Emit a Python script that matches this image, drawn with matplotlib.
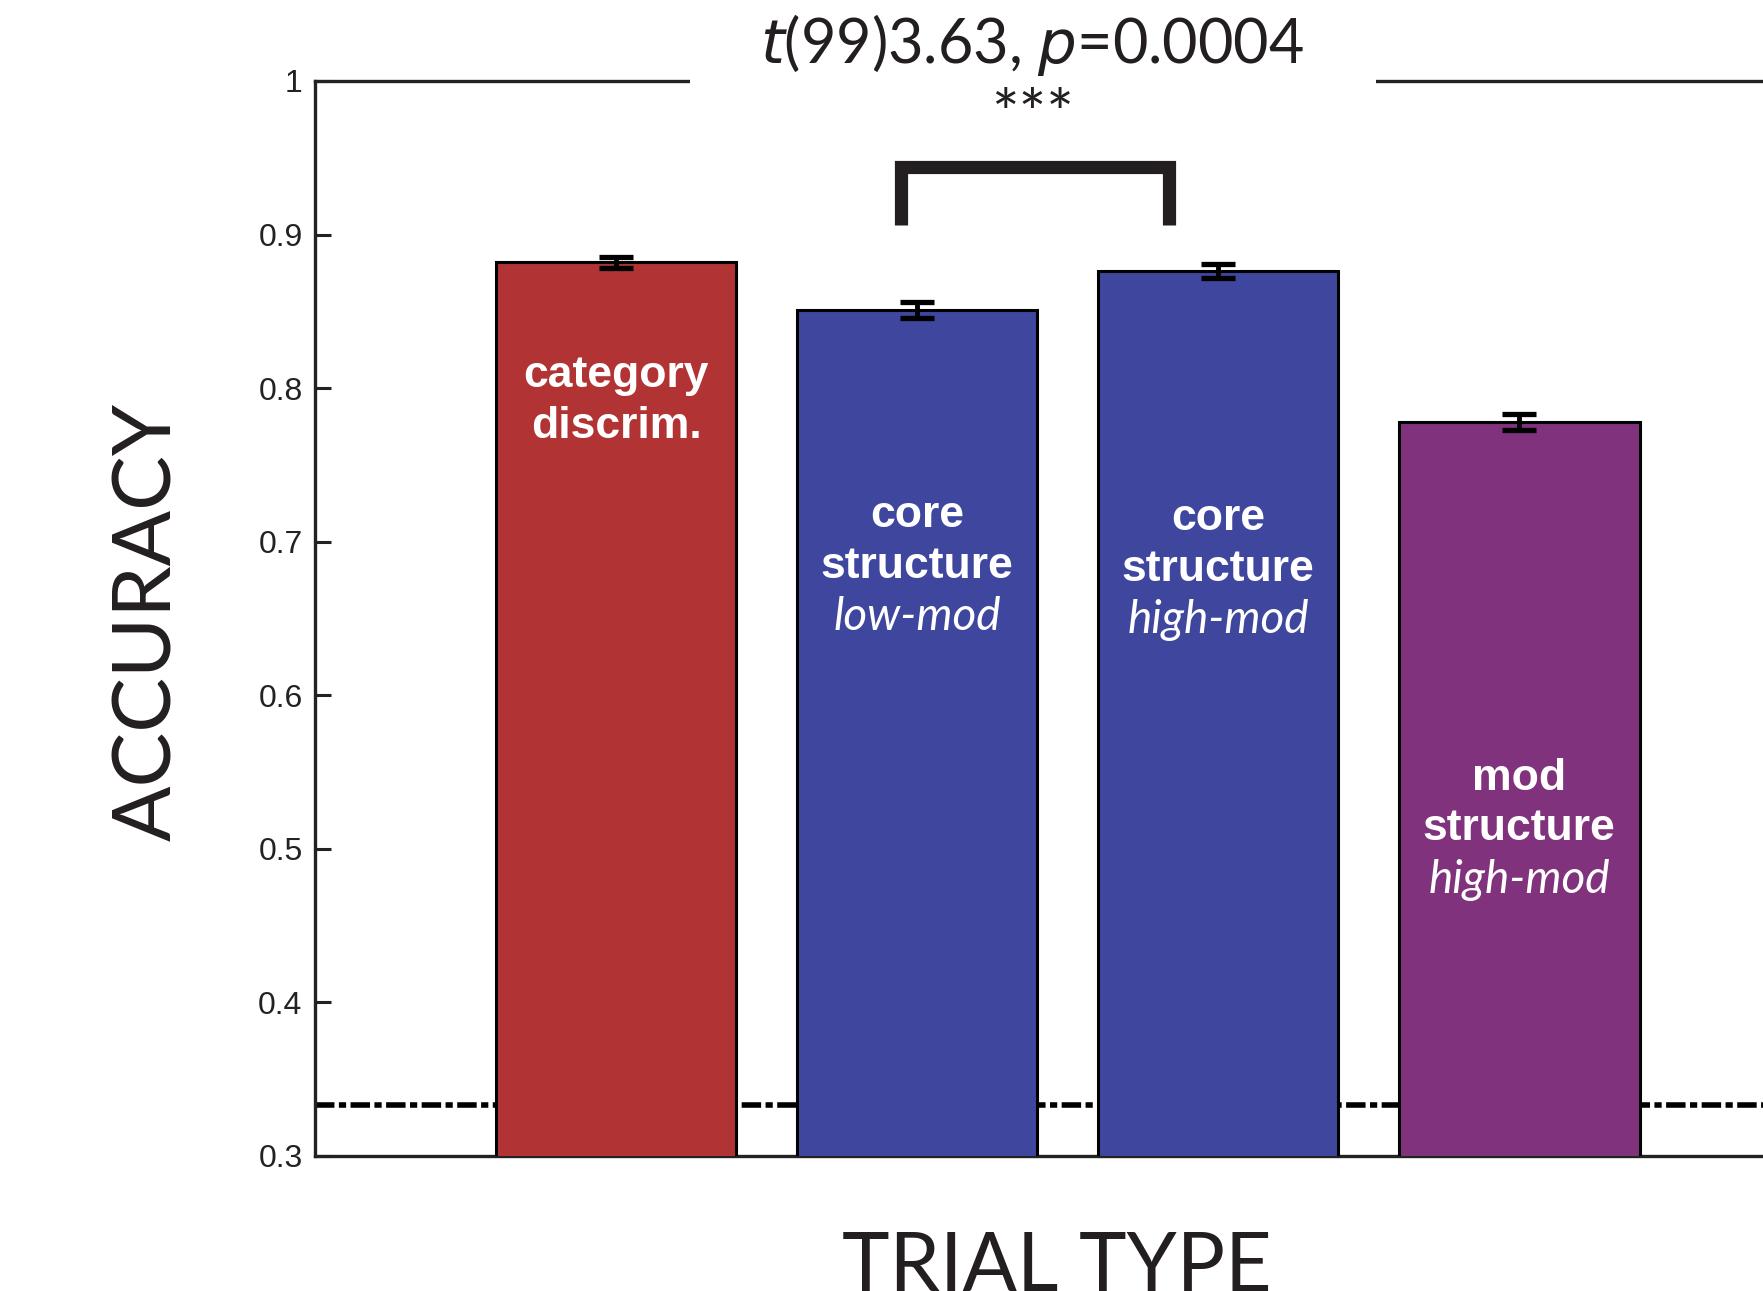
import matplotlib
matplotlib.use("Agg")
import matplotlib.pyplot as plt
from matplotlib.patches import Rectangle

# ---- data ----
categories = ["category discrim.", "core structure low-mod", "core structure high-mod", "mod structure high-mod"]
accuracy = [0.882, 0.851, 0.876, 0.778]
sem = [0.0035, 0.0052, 0.0045, 0.0050]
chance = 1 / 3
bold_lines = [["category", "discrim."], ["core", "structure"], ["core", "structure"], ["mod", "structure"]]
italic_lines = ["", "low-mod", "high-mod", "high-mod"]
yticks = [0.3, 0.4, 0.5, 0.6, 0.7, 0.8, 0.9, 1.0]
yticklabels = ["0.3", "0.4", "0.5", "0.6", "0.7", "0.8", "0.9", "1"]
stat_text = r"$\mathit{t}$(99)3.63, $\mathit{p}$=0.0004"
stars = "***"

# ---- style / layout ----
colors = ["#B23333", "#3E469E", "#3E469E", "#81327D"]
label_top = [0.808, 0.717, 0.715, 0.546]   # y of first label line
line_step = 0.033

fig = plt.figure(figsize=(17.63, 12.91), dpi=100)
ax = fig.add_axes([0.1787, 0.1046, 0.8537, 0.8327])

x = [1, 2, 3, 4]
ax.bar(x, accuracy, width=0.8, bottom=0, color=colors, edgecolor="black", linewidth=2.2, zorder=3)
ax.errorbar(x, accuracy, yerr=sem, fmt="none", ecolor="black", elinewidth=3.5,
            capsize=12, capthick=3.8, zorder=4)
ax.axhline(chance, color="black", linewidth=4.0, dashes=(3.5, 0.8, 1.3, 0.8), zorder=2)

ax.set_xlim(0, 5)
ax.set_ylim(0.3, 1.0)
ax.set_yticks(yticks)
ax.set_yticklabels(yticklabels, fontfamily="Liberation Sans", fontsize=23, color="#222222")
ax.tick_params(axis="y", direction="in", length=11.5, width=2.2, pad=9, color="#222222")
ax.set_xticks([])
for s in ["left", "top", "bottom"]:
    ax.spines[s].set_linewidth(2.4)
    ax.spines[s].set_color("#222222")
ax.spines["right"].set_visible(False)

# white block interrupting the top spine behind the statistic
ax.add_patch(Rectangle((1.245, 0.985), 2.28, 0.03, facecolor="white", edgecolor="none",
                       clip_on=False, zorder=5))

# bar labels
for i in range(4):
    y0 = label_top[i]
    for j, t in enumerate(bold_lines[i]):
        ax.text(x[i], y0 - j * line_step, t, ha="center", va="center", color="white",
                fontfamily="Liberation Sans", fontweight="bold", fontsize=32, zorder=6)
    if italic_lines[i]:
        ax.text(x[i], y0 - 2 * line_step, italic_lines[i], ha="center", va="center", color="white",
                fontfamily="Lato", fontstyle="italic", fontweight="normal", fontsize=33, zorder=6)

# significance bracket
bx0, bx1, btop, bbot = 1.948, 2.836, 0.944, 0.906
ax.plot([bx0, bx0, bx1, bx1], [bbot, btop, btop, bbot], color="#231f20", linewidth=9.5,
        solid_joinstyle="miter", solid_capstyle="butt", clip_on=False, zorder=6)

fig.text(1032 / 1763, 1 - 45 / 1291, stat_text, ha="center", va="center", fontsize=44,
         fontfamily="Lato", color="#231f20")
fig.text(1032 / 1763, 1 - 118 / 1291, stars, ha="center", va="center", fontsize=47,
         fontfamily="Lato", color="#231f20")

fig.text(148 / 1763, 1 - 622 / 1291, "ACCURACY", rotation=90, ha="center", va="center",
         fontsize=59, fontfamily="Lato", color="#231f20")
fig.text(1057 / 1763, 1 - 1268 / 1291, "TRIAL TYPE", ha="center", va="center",
         fontsize=58, fontfamily="Lato", color="#231f20")

fig.savefig("out.png", dpi=100)
